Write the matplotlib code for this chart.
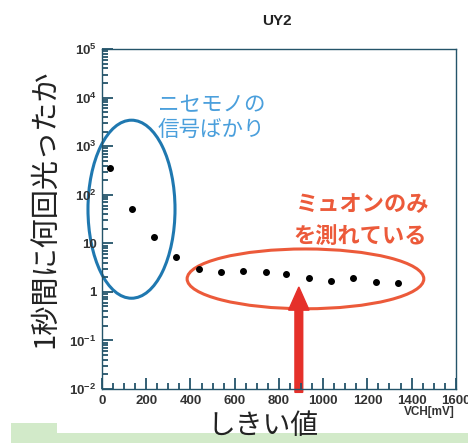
import numpy as np
import matplotlib
matplotlib.use('Agg')
import matplotlib.pyplot as plt
from matplotlib.patches import Ellipse, FancyArrow, Polygon
from matplotlib.ticker import LogLocator, MultipleLocator, FuncFormatter, NullFormatter

axis_col = '#24546a'

plt.rcParams['font.family'] = ['Liberation Sans', 'DejaVu Sans']
plt.rcParams['font.weight'] = 'bold'
plt.rcParams['mathtext.fontset'] = 'custom'
plt.rcParams['mathtext.rm'] = 'Liberation Sans:bold'
plt.rcParams['mathtext.bf'] = 'Liberation Sans:bold'
# ROOT-style frame and inward ticks
plt.rcParams.update({
    'axes.edgecolor': axis_col,
    'axes.linewidth': 1.0,
    'xtick.direction': 'in',
    'ytick.direction': 'in',
    'xtick.top': False,
    'ytick.right': False,
    'xtick.major.size': 8,
    'ytick.major.size': 8,
    'xtick.minor.size': 4,
    'ytick.minor.size': 4,
    'xtick.major.width': 1.3,
    'ytick.major.width': 1.3,
    'xtick.minor.width': 1.3,
    'ytick.minor.width': 1.3,
    'xtick.color': axis_col,
    'ytick.color': axis_col,
    'xtick.labelcolor': '#333333',
    'ytick.labelcolor': '#333333',
    'xtick.labelsize': 9.5,
    'ytick.labelsize': 9.5,
    'xtick.major.pad': 4,
    'ytick.major.pad': 4,
})

JP = ['Noto Sans CJK JP', 'DejaVu Sans']

# threshold scan: rate vs discriminator threshold
vch = [35, 135, 235, 335, 437, 537, 638, 740, 834, 938, 1037, 1136, 1238, 1338]
rate = [357, 50.6, 13.2, 5.3, 2.94, 2.59, 2.68, 2.52, 2.29, 1.95, 1.69, 1.90, 1.61, 1.54]
threshold = 890

title = 'UY2'
xlabel = 'しきい値'
ylabel = '1秒間に何回光ったか'
unit_label = 'VCH[mV]'
fake_text = ['ニセモノの', '信号ばかり']
muon_text = ['ミュオンのみ', 'を測れている']

blue = '#1f78b0'
blue_txt = '#4a9fdc'
orange = '#ec5a3a'
arrow_red = '#e5302a'

fig = plt.figure(figsize=(4.68, 4.43), dpi=100)

# green strip along the bottom
fig.add_artist(Polygon([(0.0235, 0.0), (0.0235, 0.045), (0.121, 0.045), (0.121, 0.0226),
                        (1.0, 0.0226), (1.0, 0.0)], closed=True,
                       transform=fig.transFigure, facecolor='#d2eac9', edgecolor='none',
                       zorder=-1))

ax = fig.add_axes([0.218, 0.122, 0.756, 0.767])
ax.plot(vch, rate, 'o', color='black', markersize=4, linestyle='none')

ax.set_yscale('log')
ax.set_xlim(0, 1600)
ax.set_ylim(1e-2, 1e5)


def log_label(v, pos):
    e = int(round(np.log10(v)))
    if e == 0:
        return '1'
    if e == 1:
        return '10'
    return r'$10^{%d}$' % e


ax.xaxis.set_major_locator(MultipleLocator(200))
ax.xaxis.set_minor_locator(MultipleLocator(50))
ax.yaxis.set_major_locator(LogLocator(base=10, numticks=10))
ax.yaxis.set_minor_locator(LogLocator(base=10, subs=np.arange(2, 10), numticks=20))
ax.yaxis.set_major_formatter(FuncFormatter(log_label))
ax.yaxis.set_minor_formatter(NullFormatter())

fig.text(0.592, 0.952, title, ha='center', va='center', fontsize=11, color='#222222')
fig.text(0.972, 0.07, unit_label, ha='right', va='center', fontsize=8.5, color='#333333')
fig.text(0.562, 0.038, xlabel, ha='center', va='center', fontsize=20, family=JP,
         fontweight='normal', color='#222222')
fig.text(0.096, 0.528, ylabel, ha='center', va='center', rotation=90, fontsize=21, family=JP,
         fontweight='normal', color='#222222')

# highlight regions
ax.add_patch(Ellipse((0.0833, 0.529), 0.246, 0.524, transform=ax.transAxes,
                     fill=False, edgecolor=blue, linewidth=2.2, clip_on=False))
ax.add_patch(Ellipse((0.575, 0.324), 0.669, 0.176, transform=ax.transAxes,
                     fill=False, edgecolor=orange, linewidth=2.2, clip_on=False))

ax.text(0.158, 0.835, fake_text[0], transform=ax.transAxes, ha='left', va='center',
        fontsize=15.5, family=JP, fontweight='normal', color=blue_txt)
ax.text(0.158, 0.762, fake_text[1], transform=ax.transAxes, ha='left', va='center',
        fontsize=15.5, family=JP, fontweight='normal', color=blue_txt)
ax.text(0.548, 0.544, muon_text[0], transform=ax.transAxes, ha='left', va='center',
        fontsize=16, family=JP, color=orange)
ax.text(0.542, 0.45, muon_text[1], transform=ax.transAxes, ha='left', va='center',
        fontsize=16, family=JP, color=orange)

# arrow pointing at the chosen threshold
xa = threshold / 1600
ax.add_patch(FancyArrow(xa, -0.01, 0, 0.31, width=0.022, head_width=0.058, head_length=0.068,
                        length_includes_head=True, transform=ax.transAxes,
                        color=arrow_red, clip_on=False))

fig.savefig('out.png', dpi=100)
